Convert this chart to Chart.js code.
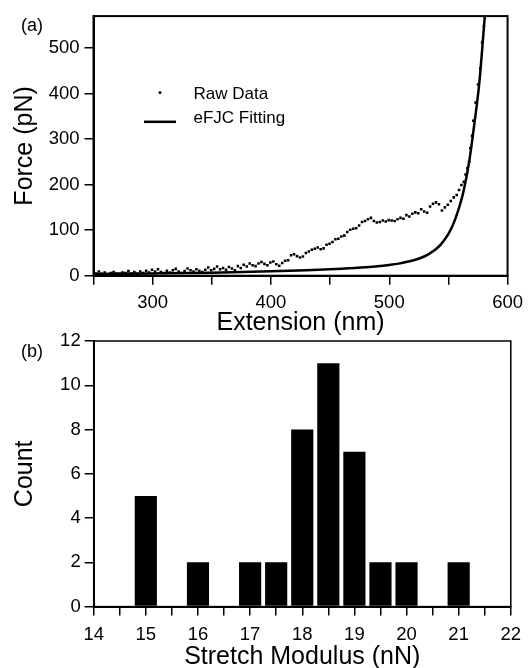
<!DOCTYPE html>
<html>
<head>
<meta charset="utf-8">
<title>eFJC fit and stretch modulus</title>
<script src="https://cdn.jsdelivr.net/npm/chart.js@4.4.1/dist/chart.umd.min.js"></script>
<style>
  html, body { margin: 0; padding: 0; background: #fff; }
  #wrap { position: relative; width: 530px; height: 668px; overflow: hidden; }
  #forceChart { position: absolute; left: 0; top: 0; }
  #modulusChart { position: absolute; left: 0; top: 320px; }
</style>
</head>
<body>
<div id="wrap">
  <canvas id="forceChart" width="530" height="340"></canvas>
  <canvas id="modulusChart" width="530" height="348"></canvas>
</div>
<script>
// Panel (a): raw force-extension data (nm, pN)
const rawExtension = [
  252, 254.5, 257, 259.5, 262, 264.5, 267, 269.5, 272, 274.5,
  277, 279.5, 282, 284.5, 287, 289.5, 292, 294.5, 297, 299.5,
  302, 304.5, 307, 309.5, 312, 314.5, 317, 319.5, 322, 324.5,
  327, 329.5, 332, 334.5, 337, 339.5, 342, 344.5, 347, 349.5,
  352, 354.5, 357, 359.5, 362, 364.5, 367, 369.5, 372, 374.5,
  377, 379.5, 382, 384.5, 387, 389.5, 392, 394.5, 397, 399.5,
  402, 404.5, 407, 409.5, 412, 414.5, 417, 419.5, 422, 424.5,
  427, 429.5, 432, 434.5, 437, 439.5, 442, 444.5, 447, 449.5,
  452, 454.5, 457, 459.5, 462, 464.5, 467, 469.5, 472, 474.5,
  477, 479.5, 482, 484.5, 487, 489.5, 492, 494.5, 497, 499.5,
  502, 504.5, 507, 509.5, 512, 514.5, 517, 519.5, 522, 524.5,
  527, 529.5, 532, 534.5, 537, 539.5, 542, 544.5, 547, 549.5,
  552, 554.5, 557, 559, 561, 563, 564.5, 566, 567.5, 568.5,
  570, 571, 573, 575, 577, 578.5, 580
];
const rawForce = [
  5, 9, 4, 7, 3, 6, 8, 5, 4, 7,
  6, 10, 5, 8, 4, 9, 6, 11, 7, 13,
  9, 14, 8, 6, 11, 7, 12, 15, 9, 6,
  10, 16, 12, 9, 14, 11, 8, 13, 18, 12,
  15, 20, 14, 17, 13, 19, 16, 12, 21, 17,
  24, 20, 27, 23, 21, 27, 30, 26, 23, 29,
  31, 25, 22, 28, 33, 34, 45, 47, 43, 40,
  42, 50, 53, 57, 59, 62, 58, 60, 68, 70,
  74, 80, 81, 86, 88, 96, 101, 103, 104, 110,
  118, 120, 124, 127, 120, 117, 118, 121, 119, 122,
  121, 120, 124, 127, 125, 133, 130, 136, 139, 137,
  146, 141, 138, 152, 158, 161, 157, 143, 150, 156,
  164, 172, 177, 188, 199, 206, 222, 236, 250, 280,
  307, 340, 380, 420, 455, 512, 548
];

// Panel (a): eFJC fitting curve
const fitExtension = [
  250, 300, 350, 400, 430, 460, 480, 490, 500, 508,
  516, 522, 528, 533, 537, 541, 544, 547, 550, 553,
  556, 558, 560, 562, 564, 566, 568, 570, 572, 574,
  576, 578, 580, 582
];
const fitForce = [
  4, 5, 6.5, 9.5, 12, 15.5, 18.5, 20.5, 23.5, 26.5,
  31, 35, 40.5, 47, 53.5, 62, 70, 80, 92, 107,
  126, 141, 158, 177, 200, 227, 258, 295, 335, 375,
  420, 480, 545, 610
];

// Panel (b): stretch modulus histogram
const modulusBins = [15, 16, 17, 17.5, 18, 18.5, 19, 19.5, 20, 21];
const modulusCounts = [5, 2, 2, 2, 8, 11, 7, 2, 2, 2];

Chart.defaults.font.family = '"Liberation Sans", Arial, sans-serif';
Chart.defaults.color = "#000";

// Pair two arrays into {x, y} points
function toPoints(xs, ys) {
  return xs.map((x, i) => ({ x: x, y: ys[i] }));
}

// Draws the box around the plot area and the panel letter
const framePlugin = {
  id: "frame",
  afterDraw(chart, args, opts) {
    const { ctx, chartArea } = chart;
    ctx.save();
    ctx.strokeStyle = "#000";
    ctx.lineWidth = opts.lineWidth;
    ctx.strokeRect(chartArea.left, chartArea.top,
      chartArea.right - chartArea.left, chartArea.bottom - chartArea.top);
    ctx.fillStyle = "#000";
    ctx.font = '18px "Liberation Sans", Arial, sans-serif';
    ctx.textBaseline = "middle";
    ctx.textAlign = "left";
    ctx.fillText(opts.letter, opts.letterX, opts.letterY);
    ctx.restore();
  },
};

// Legend drawn inside the plot area, like the original figure
const insetLegendPlugin = {
  id: "insetLegend",
  afterDraw(chart, args, opts) {
    if (!opts.show) return;
    const { ctx, chartArea } = chart;
    const symX = chartArea.left + opts.symbolX;
    const textX = chartArea.left + opts.textX;
    ctx.save();
    ctx.fillStyle = "#000";
    ctx.strokeStyle = "#000";
    ctx.font = '17px "Liberation Sans", Arial, sans-serif';
    ctx.textBaseline = "alphabetic";
    chart.data.datasets.forEach((ds, i) => {
      const y = chartArea.top + opts.rowY[i];
      if (ds.showLine) {
        ctx.lineWidth = ds.borderWidth;
        ctx.beginPath();
        ctx.moveTo(symX - 16, y);
        ctx.lineTo(symX + 16, y);
        ctx.stroke();
      } else {
        ctx.fillRect(symX - 1.3, y - 1.3, 2.6, 2.6);
      }
      ctx.fillText(ds.label, textX, y + opts.textShift[i]);
    });
    ctx.restore();
  },
};

// Create the "Force vs Extension" chart
const force_chart = new Chart(document.getElementById("forceChart"), {
  type: "scatter",
  data: {
    datasets: [
      {
        label: "Raw Data",
        data: toPoints(rawExtension, rawForce),
        pointStyle: "rect",
        pointRadius: 1.8,
        pointBorderWidth: 0,
        backgroundColor: "#000",
        borderColor: "#000",
        showLine: false,
      },
      {
        label: "eFJC Fitting",
        data: toPoints(fitExtension, fitForce),
        showLine: true,
        pointRadius: 0,
        borderColor: "#000",
        borderWidth: 2.5,
        cubicInterpolationMode: "monotone",
      },
    ],
  },
  options: {
    responsive: false,
    animation: false,
    layout: { padding: { top: 11, right: 19, left: 0, bottom: 0 } },
    scales: {
      x: {
        type: "linear",
        min: 250,
        max: 600,
        ticks: {
          stepSize: 50,
          autoSkip: false,
          maxRotation: 0,
          padding: 7,
          font: { size: 18.5 },
          callback: (v) => (v % 100 === 0 ? v : ""),
        },
        grid: { drawOnChartArea: false, tickLength: 9, tickColor: "#000", lineWidth: 1.5 },
        border: { color: "#000", width: 2 },
        title: {
          display: true,
          text: "Extension (nm)",
          font: { size: 25, lineHeight: 1 },
          padding: { top: 0, bottom: 4 },
        },
        afterFit: (scale) => { scale.height = 64.3; },
      },
      y: {
        min: 0,
        max: 570,
        ticks: { stepSize: 100, includeBounds: false, padding: 5, font: { size: 18.5 } },
        grid: { drawOnChartArea: false, tickLength: 9, tickColor: "#000", lineWidth: 1.5 },
        border: { color: "#000", width: 2 },
        title: {
          display: true,
          text: "Force (pN)",
          font: { size: 25, lineHeight: 1 },
          padding: { top: 13, bottom: 0 },
        },
        afterFit: (scale) => { scale.width = 93.5; },
      },
    },
    plugins: {
      legend: { display: false },
      tooltip: { enabled: false },
      frame: { lineWidth: 2, letter: "(a)", letterX: 21, letterY: 26 },
      insetLegend: {
        show: true,
        symbolX: 66.5,
        textX: 100,
        rowY: [76.5, 105.7],
        textShift: [6, 1.5],
      },
    },
  },
  plugins: [framePlugin, insetLegendPlugin],
});

// Create the "Stretch Modulus" histogram
const modulus_chart = new Chart(document.getElementById("modulusChart"), {
  type: "bar",
  data: {
    datasets: [
      {
        label: "Count",
        data: toPoints(modulusBins, modulusCounts),
        backgroundColor: "#000",
        borderWidth: 0,
        categoryPercentage: 1,
        barPercentage: 0.85,
      },
    ],
  },
  options: {
    responsive: false,
    animation: false,
    layout: { padding: { top: 21, right: 19.2, left: 0, bottom: 0 } },
    scales: {
      x: {
        type: "linear",
        min: 14,
        max: 22,
        offset: false,
        ticks: {
          stepSize: 0.5,
          autoSkip: false,
          maxRotation: 0,
          padding: 8,
          font: { size: 18.5 },
          callback: (v) => (Number.isInteger(v) ? v : ""),
        },
        grid: { offset: false, drawOnChartArea: false, tickLength: 9, tickColor: "#000", lineWidth: 1.5 },
        border: { color: "#000", width: 2 },
        title: {
          display: true,
          text: "Stretch Modulus (nN)",
          font: { size: 25, lineHeight: 1 },
          padding: { top: 0, bottom: -1.5 },
        },
        afterFit: (scale) => { scale.height = 61.4; },
      },
      y: {
        min: 0,
        max: 12,
        ticks: { stepSize: 2, padding: 4, font: { size: 18.5 } },
        grid: { drawOnChartArea: false, tickLength: 9, tickColor: "#000", lineWidth: 1.5 },
        border: { color: "#000", width: 2 },
        title: {
          display: true,
          text: "Count",
          font: { size: 25, lineHeight: 1 },
          padding: { top: 13, bottom: 0 },
        },
        afterFit: (scale) => { scale.width = 93.7; },
      },
    },
    plugins: {
      legend: { display: false },
      tooltip: { enabled: false },
      frame: { lineWidth: 1.5, letter: "(b)", letterX: 21, letterY: 32 },
      insetLegend: { show: false },
    },
  },
  plugins: [framePlugin, insetLegendPlugin],
});
</script>
</body>
</html>
